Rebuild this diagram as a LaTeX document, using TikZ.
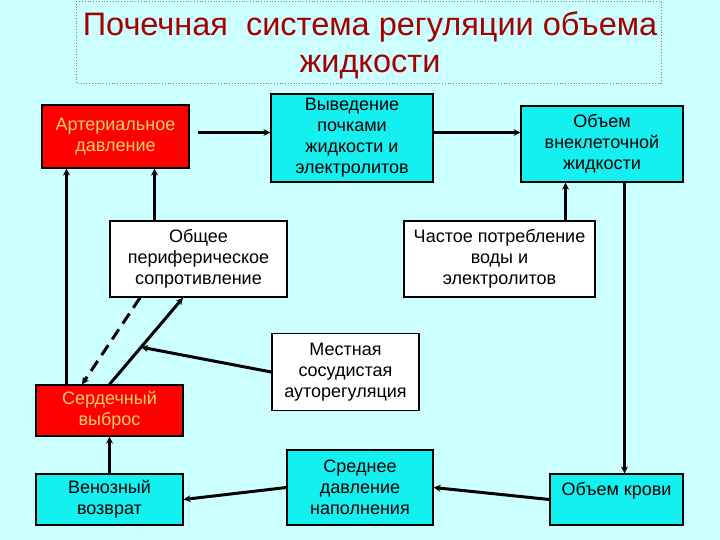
\documentclass[tikz,border=0pt]{standalone}
\usepackage{fontspec}
\setmainfont{Liberation Sans}
\usepackage{xcolor}
\usetikzlibrary{arrows.meta}

\begin{document}
\begin{tikzpicture}[x=1pt, y=-1pt,
    box/.style={draw=black, line width=1.2pt, align=center, inner sep=2pt,
        font=\fontsize{18}{21}\selectfont},
    cyanbox/.style={box, fill=boxcyan},
    redbox/.style={box, fill=red, text=boxyellow},
    whitebox/.style={box, fill=white, line width=1.6pt},
    arr/.style={line width=3pt, -{Stealth[length=7pt,width=7pt]}}]
    % Colours of the slide
    \definecolor{bgcyan}{RGB}{204,255,255}
    \definecolor{boxcyan}{RGB}{20,240,240}
    \definecolor{boxyellow}{RGB}{255,210,100}
    \definecolor{titlered}{RGB}{165,0,0}

    % Background and page size
    \fill[bgcyan] (0,0) rectangle (720,540);
    \useasboundingbox (0,0) rectangle (720,540);

    % Title in a dotted frame
    \draw[dotted, gray, thick] (76,1) rectangle (661,83);
    \node[text=titlered, align=center, font=\fontsize{32.5}{37}\selectfont] (title) at (370,45)
        {Почечная\ \ система регуляции объема\\жидкости};

    % Boxes of the top row
    \node[redbox, minimum width=147pt, minimum height=63pt] (art) at (115.5,136.5) {Артериальное\\давление};
    \node[cyanbox, minimum width=162pt, minimum height=88pt] (vyv) at (352,138) {Выведение\\почками\\жидкости и\\электролитов};
    \node[cyanbox, minimum width=162pt, minimum height=76pt] (vnekl) at (602,144) {Объем\\внеклеточной\\жидкости};

    % Boxes of the second row
    \node[whitebox, minimum width=177pt, minimum height=76pt] (ops) at (198.5,259) {Общее\\периферическое\\сопротивление};
    \node[whitebox, minimum width=191pt, minimum height=76pt] (chast) at (499.5,259) {Частое потребление\\воды и\\электролитов};

    % Local autoregulation
    \node[whitebox, minimum width=147pt, minimum height=77pt] (mest) at (345.5,372) {Местная\\сосудистая\\ауторегуляция};

    % Boxes of the bottom rows
    \node[redbox, minimum width=147pt, minimum height=51pt] (serd) at (109.5,410.5) {Сердечный\\выброс};
    \node[cyanbox, minimum width=147pt, minimum height=51pt] (ven) at (109.5,499.5) {Венозный\\возврат};
    \node[cyanbox, minimum width=146pt, minimum height=75pt] (sred) at (360,487.5) {Среднее\\давление\\наполнения};
    \node[cyanbox, minimum width=133pt, minimum height=51pt, text depth=21pt] (krov) at (616.5,499.5) {Объем крови};

    % Arrows along the top row
    \draw[arr] ([xshift=8pt,yshift=4pt]art.east) -- ([yshift=4pt]art.east -| vyv.west);
    \draw[arr] ([yshift=5.5pt]vyv.east) -- ([yshift=5.5pt]vyv.east -| vnekl.west);

    % Water intake up to the extracellular volume
    \draw[arr] ([xshift=66pt]chast.north) -- ([xshift=66pt]chast.north |- vnekl.south);

    % Extracellular volume down to blood volume
    \draw[arr] ([xshift=22.5pt]vnekl.south) -- ([xshift=22.5pt]vnekl.south |- krov.north);

    % Bottom row leftwards
    \draw[arr] (krov.west) -- (sred.east);
    \draw[arr] (sred.west) -- (ven.east);
    \draw[arr] (ven.north) -- (serd.south);

    % Up to the arterial pressure
    \draw[arr] ([xshift=-43pt]serd.north) -- ([xshift=-43pt]serd.north |- art.south);
    \draw[arr] ([xshift=-44pt]ops.north) -- ([xshift=-44pt]ops.north |- art.south);

    % Between cardiac output and peripheral resistance
    \draw[arr, dash pattern=on 12pt off 7pt] ([xshift=-58.5pt]ops.south) -- ([xshift=-27.5pt]serd.north);
    \draw[arr] (serd.north) -- coordinate[pos=0.43] (hit) ([xshift=-15.5pt]ops.south);

    % Autoregulation onto that arrow
    \draw[arr] (mest.west) -- (hit);

\end{tikzpicture}
\end{document}
